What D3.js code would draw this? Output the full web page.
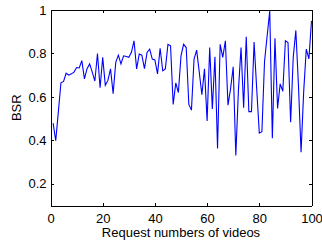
<!DOCTYPE html>
<html>
<head>
    <meta charset="utf-8">
    <style>
        body { margin: 0; padding: 0; overflow: hidden; background-color: #fff; }
        text { font-family: Arial, "Liberation Sans", sans-serif; font-size: 13px; fill: #000; }
        .axis path, .axis line { stroke: #000; shape-rendering: crispEdges; }
        .series { fill: none; stroke: #0000ff; stroke-width: 1.1; }
    </style>
</head>
<body>
    <div id="chart"></div>
    <script src="https://d3js.org/d3.v7.min.js"></script>
    <script>
        // request number (x) and BSR (y)
        var requests = d3.range(1, 101);
        var bsr = [
            0.479, 0.398, 0.53, 0.665, 0.671, 0.709, 0.70, 0.706, 0.714, 0.735,
            0.733, 0.767, 0.683, 0.73, 0.752, 0.714, 0.673, 0.80, 0.642, 0.782,
            0.653, 0.676, 0.729, 0.615, 0.759, 0.792, 0.752, 0.789, 0.786, 0.782,
            0.805, 0.858, 0.729, 0.797, 0.792, 0.73, 0.805, 0.82, 0.774, 0.77,
            0.706, 0.824, 0.72, 0.729, 0.842, 0.835, 0.565, 0.664, 0.62, 0.789,
            0.842, 0.827, 0.565, 0.539, 0.774, 0.815, 0.714, 0.61, 0.729, 0.489,
            0.827, 0.544, 0.785, 0.362, 0.842, 0.782, 0.858, 0.562, 0.638, 0.739,
            0.33, 0.63, 0.827, 0.55, 0.877, 0.532, 0.532, 0.853, 0.638, 0.433,
            0.44, 0.762, 0.88, 0.995, 0.41, 0.87, 0.547, 0.66, 0.626, 0.858,
            0.85, 0.483, 0.782, 0.906, 0.653, 0.345, 0.623, 0.82, 0.775, 0.95
        ];
        var xTicks = [0, 20, 40, 60, 80, 100];
        var yTicks = [0.2, 0.4, 0.6, 0.8, 1];

        var width = 322, height = 248;
        var margin = { top: 10, right: 10.5, bottom: 42.5, left: 50.5 };

        var svg = d3.select("#chart")
            .append("svg")
            .attr("width", width)
            .attr("height", height);

        var x = d3.scaleLinear().domain([0, 100]).range([margin.left, width - margin.right]);
        var y = d3.scaleLinear().domain([0.1, 1]).range([height - margin.bottom, margin.top]);

        svg.append("g")
            .attr("class", "axis")
            .attr("transform", "translate(0," + (height - margin.bottom) + ")")
            .call(d3.axisBottom(x).tickValues(xTicks).tickSizeInner(-3).tickSizeOuter(0).tickPadding(8))
            .call(g => g.selectAll("text").attr("font-size", 13).attr("font-family", "Arial"));

        svg.append("g")
            .attr("class", "axis")
            .attr("transform", "translate(0," + margin.top + ")")
            .call(d3.axisTop(x).tickValues(xTicks).tickSizeInner(-3).tickSizeOuter(0).tickFormat(""));

        svg.append("g")
            .attr("class", "axis")
            .attr("transform", "translate(" + margin.left + ",0)")
            .call(d3.axisLeft(y).tickValues(yTicks).tickSizeInner(-3).tickSizeOuter(0).tickPadding(4).tickFormat(d => d))
            .call(g => g.selectAll("text").attr("font-size", 13).attr("font-family", "Arial"));

        svg.append("g")
            .attr("class", "axis")
            .attr("transform", "translate(" + (width - margin.right) + ",0)")
            .call(d3.axisRight(y).tickValues(yTicks).tickSizeInner(-3).tickSizeOuter(0).tickFormat(""));

        var line = d3.line()
            .x((d, i) => x(requests[i]))
            .y(d => y(d));

        svg.append("path")
            .datum(bsr)
            .attr("class", "series")
            .attr("d", line);

        svg.append("text")
            .attr("x", (margin.left + width - margin.right) / 2)
            .attr("y", 237)
            .attr("text-anchor", "middle")
            .text("Request numbers of videos");

        svg.append("text")
            .attr("transform", "translate(21," + ((margin.top + height - margin.bottom) / 2) + ") rotate(-90)")
            .attr("text-anchor", "middle")
            .text("BSR");
    </script>
</body>
</html>
